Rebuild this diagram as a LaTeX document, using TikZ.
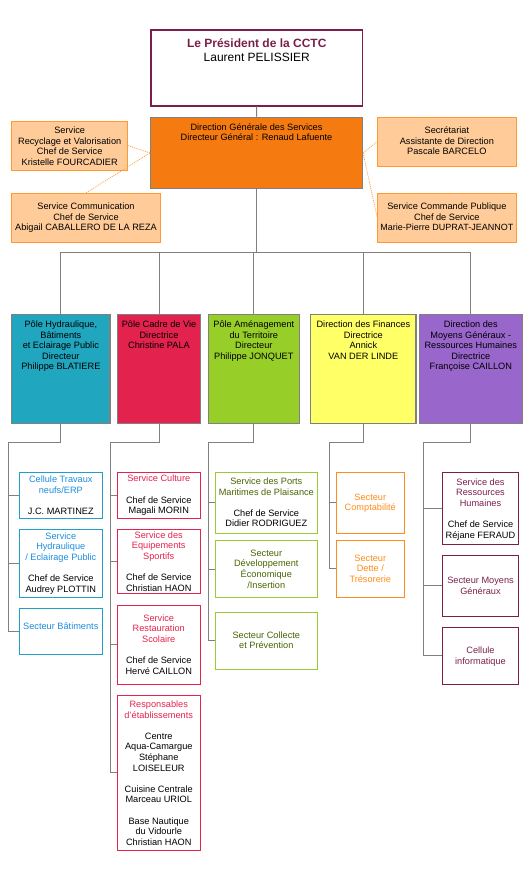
\documentclass[tikz,border=0pt]{standalone}
\usepackage{fontspec}
\setmainfont{Liberation Sans}
\definecolor{cmaroon}{RGB}{123,31,74}
\definecolor{cdgs}{RGB}{245,122,16}
\definecolor{cpeach}{RGB}{255,204,153}
\definecolor{corange}{RGB}{255,153,51}
\definecolor{cgray}{RGB}{128,128,128}
\definecolor{cteal}{RGB}{32,166,190}
\definecolor{ccrimson}{RGB}{228,34,78}
\definecolor{cgreen}{RGB}{152,206,40}
\definecolor{cyellow}{RGB}{255,255,102}
\definecolor{cpurple}{RGB}{153,102,204}
\definecolor{cbluebd}{RGB}{30,160,200}
\definecolor{cbluetx}{RGB}{28,140,220}
\definecolor{cgreenbd}{RGB}{153,204,51}
\definecolor{cgreentx}{RGB}{70,100,0}
\definecolor{corgtx}{RGB}{255,140,26}
\newcommand\tst{\rule{0pt}{9pt}}
\newcommand\bk{\color{black}}
\newcommand\bx[9]{%
  \node[box,#6,minimum width={#4-#2},minimum height={#5-#3}] (#1) at ({(#2+#4)/2},{-(#3+#5)/2}) {};
  \node[txt,text=#8,anchor=north] (#1t) at ({(#2+#4)/2},{-(#7-5.7)}) {\tst #9};
}
\tikzset{
  box/.style={draw, rectangle, inner sep=0pt, line width=0.9pt},
  txt/.style={inner sep=0pt, align=center, font=\fontsize{9.2}{10.6}\selectfont},
  conn/.style={draw=cgray, line width=1pt},
  dconn/.style={draw=corange, line width=0.7pt, dash pattern=on 1pt off 1pt},
  side/.style={fill=cpeach, draw=corange},
  pole/.style={draw=cgray, line width=1.1pt},
  sub1/.style={draw=cbluebd},
  sub2/.style={draw=ccrimson},
  sub3/.style={draw=cgreenbd},
  sub4/.style={draw=corgtx},
  sub5/.style={draw=cmaroon},
}
\begin{document}
\begin{tikzpicture}[x=1pt,y=1pt]
\useasboundingbox (0,0) rectangle (529,-869);
% President
\node[box,draw=cmaroon,line width=1.2pt,minimum width=211.5,minimum height=76] (pres) at (256.75,-68) {};
\node[inner sep=0pt,align=center,anchor=north,font=\fontsize{12}{14}\selectfont] (prest) at (256.75,-36)
  {\rule{0pt}{11pt}\textcolor{cmaroon}{\bfseries Le Président de la CCTC}\\Laurent PELISSIER};
% DGS
\bx{dgs}{150.5}{117.3}{362.5}{188.7}{fill=cdgs,draw=cgray,line width=1.1pt}{126.7}{black}{Direction Générale des Services\\Directeur Général : Renaud Lafuente}
% side boxes
\bx{l1}{11.7}{121.3}{127.7}{170}{side}{130}{black}{Service\\Recyclage et Valorisation\\Chef de Service\\Kristelle FOURCADIER}
\bx{l2}{11.7}{193.3}{160.3}{242}{side}{206}{black}{Service Communication\\Chef de Service\\Abigail CABALLERO DE LA REZA}
\bx{r1}{377.7}{117.3}{516}{166}{side}{130}{black}{Secrétariat\\Assistante de Direction\\Pascale BARCELO}
\bx{r2}{377.7}{193.3}{516}{242}{side}{206}{black}{Service Commande Publique\\Chef de Service\\{\fontsize{9}{10.6}\selectfont Marie-Pierre DUPRAT-JEANNOT}}
\draw[dconn] (dgs.west) -- (l1.east);
\draw[dconn] (dgs.west) -- (l2.north);
\draw[dconn] (dgs.east) -- (r1.west);
\draw[dconn] (dgs.east) -- (r2.west);
% poles
\bx{p1}{11.7}{314.7}{110}{423.3}{pole,fill=cteal}{324}{black}{Pôle Hydraulique,\\Bâtiments\\et Eclairage Public\\Directeur\\Philippe BLATIERE}
\bx{p2}{117.7}{314.7}{200.3}{423.3}{pole,fill=ccrimson}{324}{black}{Pôle Cadre de Vie\\Directrice\\Christine PALA}
\bx{p3}{208.3}{314.7}{299.3}{423.3}{pole,fill=cgreen}{324}{black}{Pôle Aménagement\\du Territoire\\Directeur\\Philippe JONQUET}
\bx{p4}{310.7}{314.7}{416}{423.3}{pole,fill=cyellow}{324}{black}{Direction des Finances\\Directrice\\Annick\\VAN DER LINDE}
\bx{p5}{419.3}{314.7}{522.3}{423.3}{pole,fill=cpurple}{324}{black}{Direction des\\Moyens Généraux -\\Ressources Humaines\\Directrice\\Françoise CAILLON}
% top connectors
\draw[conn] (pres.south) -- (dgs.north);
\coordinate (hb) at (256.5,-252);
\draw[conn] (dgs.south) -- (dgs.south |- hb);
\draw[conn] (p1.north |- hb) -- (p5.north |- hb);
\foreach \p in {p1,p2,p3,p4,p5} {\draw[conn] (\p.north |- hb) -- (\p.north);}
% column 1
\bx{c1a}{19.3}{472.3}{102.3}{518.3}{sub1}{479}{cbluetx}{Cellule Travaux\\neufs/ERP\\[10.6pt]\bk J.C. MARTINEZ}
\bx{c1b}{19.3}{529.3}{102.3}{597.3}{sub1}{535.7}{cbluetx}{Service\\Hydraulique\\/ Eclairage Public\\[10.6pt]\bk Chef de Service\\\bk Audrey PLOTTIN}
\bx{c1c}{19.3}{608.7}{102.3}{654.3}{sub1}{625.7}{cbluetx}{Secteur Bâtiments}
% column 2
\bx{c2a}{117.5}{472.5}{200}{518.3}{sub2}{478.3}{ccrimson}{Service Culture\\[10.6pt]\bk Chef de Service\\\bk Magali MORIN}
\bx{c2b}{117.5}{529.3}{200}{593.3}{sub2}{534.7}{ccrimson}{Service des\\Equipements\\Sportifs\\[10.6pt]\bk Chef de Service\\\bk Christian HAON}
\bx{c2c}{117.5}{605.3}{200}{684}{sub2}{617.7}{ccrimson}{Service\\Restauration\\Scolaire\\[10.6pt]\bk Chef de Service\\\bk Hervé CAILLON}
\bx{c2d}{117.5}{695.3}{200}{850}{sub2}{704}{ccrimson}{Responsables\\d'établissements\\[10.6pt]\bk Centre\\\bk Aqua-Camargue\\\bk Stéphane\\\bk LOISELEUR\\[10.6pt]\bk Cuisine Centrale\\\bk Marceau URIOL\\[10.6pt]\bk Base Nautique\\\bk du Vidourle\\\bk Christian HAON}
% column 3
\bx{c3a}{215.3}{472.3}{317.3}{533.3}{sub3}{481}{cgreentx}{Service des Ports\\Maritimes de Plaisance\\[10.6pt]\bk Chef de Service\\\bk Didier RODRIGUEZ}
\bx{c3b}{215.3}{540.7}{317.3}{597.3}{sub3}{552.7}{cgreentx}{Secteur\\Développement\\Économique\\/Insertion}
\bx{c3c}{215.3}{612.3}{317.3}{669.3}{sub3}{634.7}{cgreentx}{Secteur Collecte\\et Prévention}
% column 4
\bx{c4a}{336.3}{472.3}{404.3}{533.3}{sub4}{496.7}{corgtx}{Secteur\\Comptabilité}
\bx{c4b}{336.3}{540.3}{404.3}{597.3}{sub4}{557.7}{corgtx}{Secteur\\Dette /\\Trésorerie}
% column 5
\bx{c5a}{442.3}{472.3}{518.7}{544.3}{sub5}{481.7}{cmaroon}{Service des\\Ressources\\Humaines\\[10.6pt]\bk Chef de Service\\\bk Réjane FERAUD}
\bx{c5b}{442.3}{555.3}{518.7}{616.3}{sub5}{580}{cmaroon}{Secteur Moyens\\Généraux}
\bx{c5c}{442.3}{627.3}{518.7}{684}{sub5}{650}{cmaroon}{Cellule\\informatique}
% tree connectors
\coordinate (k1) at (8.3,-442.3);
\coordinate (k2) at (110.8,-442.3);
\coordinate (k3) at (208.3,-442.3);
\coordinate (k4) at (329.3,-442.3);
\coordinate (k5) at (423.3,-442.3);
\draw[conn] (p1.south) |- (k1) |- (c1c.west);
\draw[conn] (k1 |- c1a.west) -- (c1a.west);
\draw[conn] (k1 |- c1b.west) -- (c1b.west);
\draw[conn] (p2.south) |- (k2) |- (c2d.west);
\draw[conn] (k2 |- c2a.west) -- (c2a.west);
\draw[conn] (k2 |- c2b.west) -- (c2b.west);
\draw[conn] (k2 |- c2c.west) -- (c2c.west);
\draw[conn] (p3.south) |- (k3) |- (c3c.west);
\draw[conn] (k3 |- c3a.west) -- (c3a.west);
\draw[conn] (k3 |- c3b.west) -- (c3b.west);
\draw[conn] (p4.south) |- (k4) |- (c4b.west);
\draw[conn] (k4 |- c4a.west) -- (c4a.west);
\draw[conn] (p5.south) |- (k5) |- (c5c.west);
\draw[conn] (k5 |- c5a.west) -- (c5a.west);
\draw[conn] (k5 |- c5b.west) -- (c5b.west);
\end{tikzpicture}
\end{document}
